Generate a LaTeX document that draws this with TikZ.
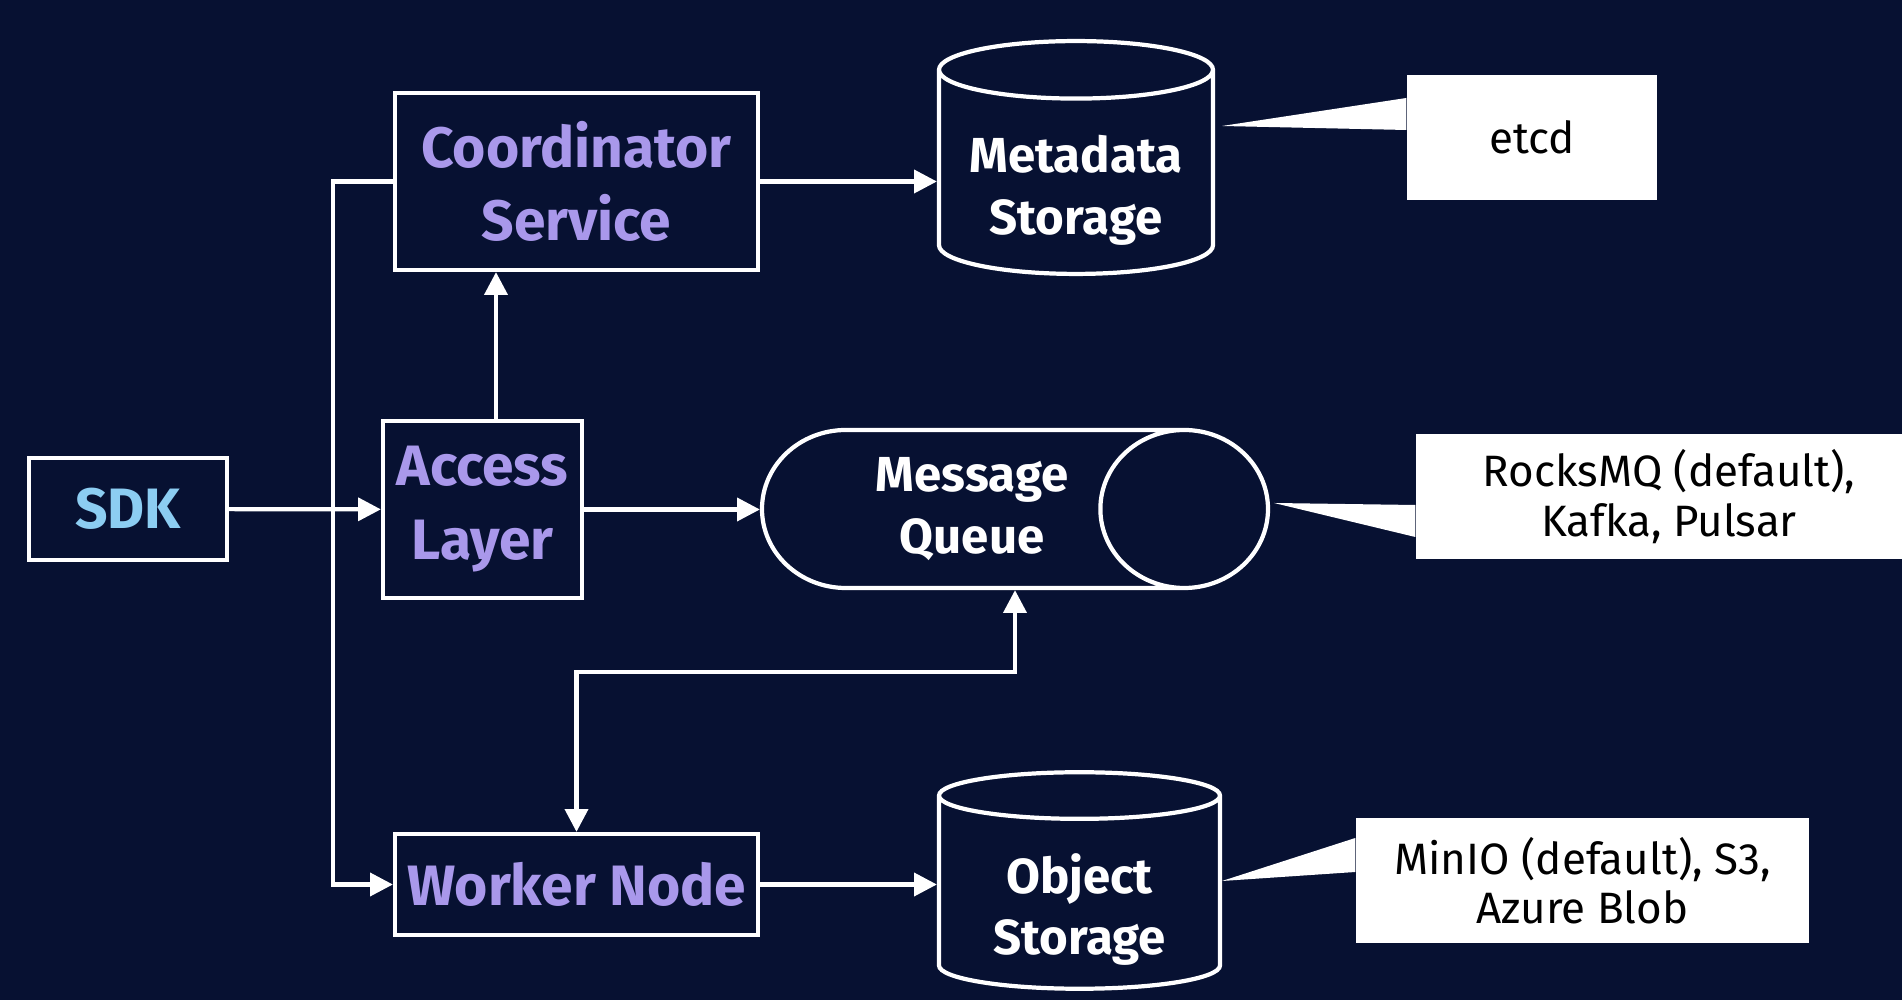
\documentclass[tikz,border=0pt]{standalone}
\usepackage{fontspec}
\setmainfont{Fira Sans}
\usetikzlibrary{arrows.meta,shapes.geometric,positioning,calc}
\definecolor{MVBack}{RGB}{7,17,50}
\definecolor{MVLav}{RGB}{169,152,235}
\definecolor{MVSky}{RGB}{140,205,242}
\tikzset{
  cbox/.style={draw=white,fill=MVBack,line width=1.2pt,align=center,inner sep=0pt,text=MVLav,font=\bfseries\fontsize{16.2}{21}\selectfont},
  drum/.style={cylinder,draw=white,fill=MVBack,line width=1.2pt,align=center,inner sep=0pt,text=white,font=\bfseries\fontsize{14}{17.5}\selectfont},
  note/.style={fill=white,align=center,inner sep=0pt,text=black,font=\fontsize{12.5}{14}\selectfont},
  wire/.style={white,line width=1.2pt},
  arr/.style={wire,-{Triangle[length=6.5pt,width=6.5pt]}},
  darr/.style={wire,{Triangle[length=6.5pt,width=6.5pt]}-{Triangle[length=6.5pt,width=6.5pt]}},
}

\begin{document}
\begin{tikzpicture}
    \fill[MVBack] (0,0) rectangle (19.02,-10);
    \clip (0,0) rectangle (19.02,-10);
    %% Clients and services
    \node[cbox,text=MVSky,minimum width=1.98cm,minimum height=1.02cm] (sdk) at (1.28,-5.09) {SDK};
    \node[cbox,minimum width=3.63cm,minimum height=1.77cm] (coord)  at (5.765,-1.815) {Coordinator\\Service};
    \node[cbox,minimum width=1.99cm,minimum height=1.77cm] (access) at (4.825,-5.095) {Access\\Layer};
    \node[cbox,minimum width=3.63cm,minimum height=1.01cm] (worker) at (5.765,-8.845) {Worker Node};
    %% Storage
    \node[drum,shape border rotate=90,aspect=0.27,text height=38pt,minimum width=2.74cm,minimum height=2.19cm,anchor=shape center] (meta) at (10.76,-1.575) {Metadata\\Storage};
    \node[drum,aspect=1.63,minimum width=1.58cm,minimum height=5.06cm,anchor=shape center] (mq) at (10.15,-5.09) {Message\\Queue};
    \node[drum,shape border rotate=90,aspect=0.27,text height=38pt,minimum width=2.81cm,minimum height=2.15cm,anchor=shape center] (objst) at (10.795,-8.805) {Object\\Storage};
    %% Notes
    \node[note,minimum width=2.50cm,minimum height=1.25cm] (etcd)  at (15.32,-1.375) {etcd};
    \node[note,minimum width=5.06cm,minimum height=1.25cm] (rocks) at (16.69,-4.965) {RocksMQ (default),\\Kafka, Pulsar};
    \node[note,minimum width=4.53cm,minimum height=1.25cm] (minio) at (15.825,-8.805) {MinIO (default), S3,\\Azure Blob};
    \fill[white] ([yshift=0.395cm]etcd.west) -- (12.22,-1.26) -- ([yshift=0.075cm]etcd.west) -- cycle;
    \fill[white] ([yshift=-0.085cm]rocks.west) -- (12.74,-5.03) -- ([yshift=-0.405cm]rocks.west) -- cycle;
    \fill[white] ([yshift=0.425cm]minio.west) -- (12.22,-8.81) -- ([yshift=0.085cm]minio.west) -- cycle;
    %% Arrows
    \draw[arr] (sdk) -- (access);
    \draw[arr] (coord.west) -- ++(-0.6,0) |- (worker.west);
    \draw[arr] ([xshift=0.135cm]access.north) -- ([xshift=0.135cm]access.north |- coord.south);
    \draw[arr] (access.east) -- (access.east -| mq.west);
    \draw[arr] (coord.east) -- (coord.east -| meta.west);
    \draw[arr] (worker.east) -- (worker.east -| objst.west);
    \draw[darr] (worker.north) -- ++(0,1.6) -| (mq.shape center |- mq.south);
\end{tikzpicture}
\end{document}
